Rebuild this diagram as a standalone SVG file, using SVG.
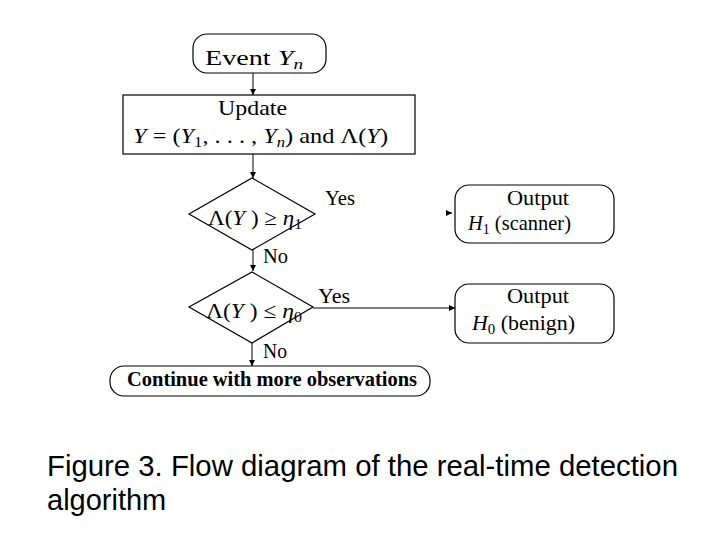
<svg xmlns="http://www.w3.org/2000/svg" width="720" height="540" viewBox="0 0 720 540">
<style>
.box{fill:#fff;stroke:#000;stroke-width:1.2}
.t{font-family:"Liberation Serif","Times New Roman",serif;font-size:22px;fill:#000}
.i{font-style:italic}
.sub{font-size:15px}
.cap{font-family:"Liberation Sans",Arial,sans-serif;font-size:29px;fill:#000}
.con{fill:none;stroke:#000;stroke-width:1}
</style>
<defs>
<marker id="ah" markerUnits="userSpaceOnUse" markerWidth="7" markerHeight="6" refX="6" refY="3" orient="auto">
<path d="M0,0 L6,3 L0,6 z" fill="#000"/>
</marker>
</defs>
<rect width="720" height="540" fill="#fff"/>
<g id="connectors">
<path class="con" d="M253,73 V95" marker-end="url(#ah)"/>
<path class="con" d="M253,154 V178" marker-end="url(#ah)"/>
<path class="con" d="M253,250 V271" marker-end="url(#ah)"/>
<path class="con" d="M252,343 V366" marker-end="url(#ah)"/>
<path class="con" d="M313,308 H455" marker-end="url(#ah)"/>
<path class="con" d="M447,213 H452" marker-end="url(#ah)"/>
<text class="t" x="325" y="205" textLength="30" lengthAdjust="spacingAndGlyphs">Yes</text>
<text class="t" x="263" y="263" textLength="25" lengthAdjust="spacingAndGlyphs">No</text>
<text class="t" x="318" y="303" textLength="32" lengthAdjust="spacingAndGlyphs">Yes</text>
<text class="t" x="263" y="358" textLength="24" lengthAdjust="spacingAndGlyphs">No</text>
</g>
<g id="event">
<rect class="box" x="193" y="34" width="133" height="39" rx="14"/>
<text class="t" x="205" y="65" textLength="98" lengthAdjust="spacingAndGlyphs">Event <tspan class="i">Y</tspan><tspan class="i sub" dy="4">n</tspan></text>
</g>
<g id="update">
<rect class="box" x="123" y="95" width="292" height="59"/>
<text class="t" x="218" y="115" textLength="69" lengthAdjust="spacingAndGlyphs">Update</text>
<text class="t" x="133" y="143" textLength="255" lengthAdjust="spacingAndGlyphs"><tspan class="i">Y</tspan> = (<tspan class="i">Y</tspan><tspan class="sub" dy="4">1</tspan><tspan dy="-4">, . . . , </tspan><tspan class="i">Y</tspan><tspan class="i sub" dy="4">n</tspan><tspan dy="-4">) and Λ(</tspan><tspan class="i">Y</tspan>)</text>
</g>
<g id="decision1">
<polygon class="box" points="252,178 315,214 252,250 189,214"/>
<text class="t" x="208" y="225" textLength="94" lengthAdjust="spacingAndGlyphs">Λ(<tspan class="i">Y</tspan> ) ≥ <tspan class="i">η</tspan><tspan class="sub" dy="4">1</tspan></text>
</g>
<g id="output1">
<rect class="box" x="455" y="185" width="159" height="58" rx="14"/>
<text class="t" x="507" y="205" textLength="62" lengthAdjust="spacingAndGlyphs">Output</text>
<text class="t" x="468" y="230" textLength="103" lengthAdjust="spacingAndGlyphs"><tspan class="i">H</tspan><tspan class="sub" dy="4">1</tspan><tspan dy="-4">  (scanner)</tspan></text>
</g>
<g id="decision2">
<polygon class="box" points="252,272 313,307 252,343 189,307"/>
<text class="t" x="206" y="318" textLength="96" lengthAdjust="spacingAndGlyphs">Λ(<tspan class="i">Y</tspan> ) ≤ <tspan class="i">η</tspan><tspan class="sub" dy="4">0</tspan></text>
</g>
<g id="output0">
<rect class="box" x="455" y="284" width="159" height="59" rx="14"/>
<text class="t" x="507" y="303" textLength="62" lengthAdjust="spacingAndGlyphs">Output</text>
<text class="t" x="472" y="330" textLength="103" lengthAdjust="spacingAndGlyphs"><tspan class="i">H</tspan><tspan class="sub" dy="4">0</tspan><tspan dy="-4"> (benign)</tspan></text>
</g>
<g id="continue">
<rect class="box" x="110" y="366" width="320" height="30" rx="14"/>
<text class="t" x="127" y="386" font-weight="bold" textLength="290" lengthAdjust="spacingAndGlyphs">Continue with more observations</text>
</g>
<g id="caption">
<text class="cap" x="47" y="476" textLength="631" lengthAdjust="spacingAndGlyphs">Figure 3. Flow diagram of the real-time detection</text>
<text class="cap" x="47" y="510">algorithm</text>
</g>
</svg>
